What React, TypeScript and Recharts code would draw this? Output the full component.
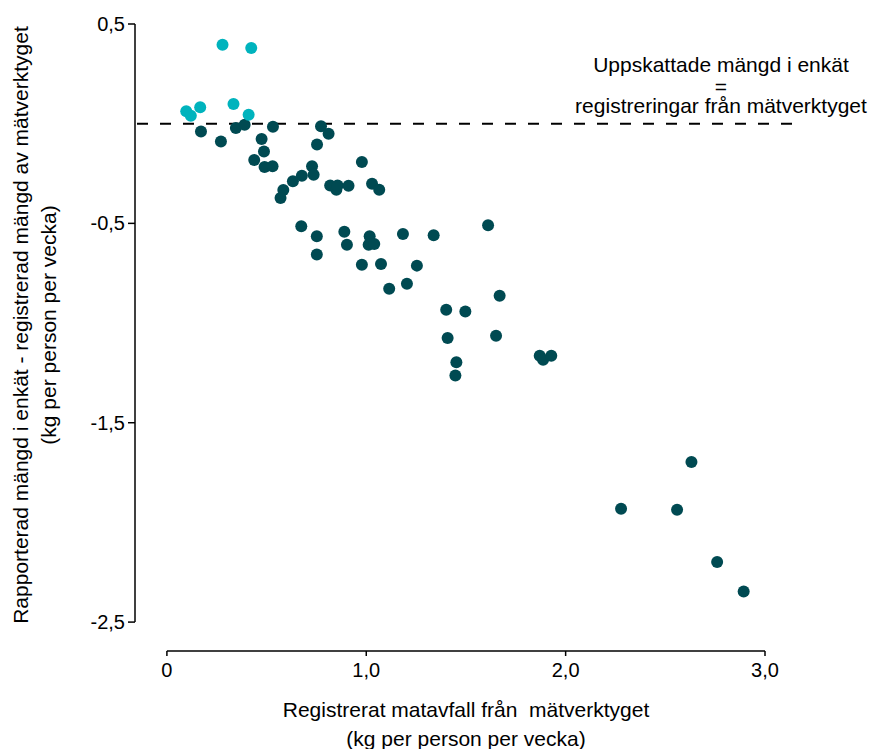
import React from 'react';
import { ScatterChart, Scatter, XAxis, YAxis, ReferenceLine } from 'recharts';

// Households where reported amount >= measured amount (light points)
const overX = [0.279, 0.423, 0.097, 0.12, 0.167, 0.334, 0.41];
const overY = [0.396, 0.38, 0.062, 0.04, 0.082, 0.099, 0.045];

// Households where reported amount < measured amount (dark points)
const underX = [
  0.171, 0.271, 0.346, 0.39, 0.532, 0.475, 0.487, 0.438, 0.49, 0.53,
  0.584, 0.57, 0.632, 0.677, 0.728, 0.736, 0.753, 0.773, 0.811, 0.819,
  0.85, 0.856, 0.911, 0.978, 1.029, 1.065, 0.674, 0.752, 0.752, 0.89,
  0.903, 1.017, 1.012, 1.04, 1.184, 1.338, 0.978, 1.074, 1.254, 1.204,
  1.115, 1.611, 1.669, 1.401, 1.497, 1.408, 1.651, 1.452, 1.447, 1.87,
  1.887, 1.928, 2.278, 2.559, 2.631, 2.76, 2.893,
];
const underY = [
  -0.039, -0.089, -0.022, -0.005, -0.015, -0.077, -0.14, -0.182, -0.217, -0.214,
  -0.333, -0.373, -0.289, -0.261, -0.214, -0.256, -0.105, -0.013, -0.05, -0.31,
  -0.331, -0.31, -0.311, -0.192, -0.301, -0.331, -0.515, -0.565, -0.656, -0.542,
  -0.607, -0.565, -0.607, -0.604, -0.553, -0.56, -0.707, -0.704, -0.712, -0.803,
  -0.828, -0.51, -0.863, -0.933, -0.942, -1.075, -1.064, -1.197, -1.263, -1.164,
  -1.184, -1.164, -1.931, -1.936, -1.697, -2.199, -2.346,
];

const xTicks = [0, 1, 2, 3];
const yTicks = [0.5, -0.5, -1.5, -2.5];

const X_MIN = -0.16;
const Y_MIN = -2.645;

const DARK = '#004a52';
const LIGHT = '#00b3bd';
const FONT = '"Liberation Sans", Arial, sans-serif';

const zip = (xs: number[], ys: number[]) => xs.map((x, i) => ({ x, y: ys[i] }));

const fmtX = (v: number) => (v === 0 ? '0' : v.toFixed(1).replace('.', ','));
const fmtY = (v: number) => v.toFixed(1).replace('.', ',');

const dot = (color: string) => (props: any) => (
  <circle cx={props.cx} cy={props.cy} r={6} fill={color} />
);

const App: React.FC = () => {
  const overData = zip(overX, overY);
  const underData = zip(underX, underY);
  const tickStyle = { fontSize: 20, fill: '#000', fontFamily: FONT };

  return (
    <div style={{ position: 'absolute', left: 0, top: 0, width: 873, height: 749, background: '#fff' }}>
      <ScatterChart width={873} height={749} margin={{ top: 24, right: 108, left: 75, bottom: 58 }}>
        <XAxis
          type="number"
          dataKey="x"
          domain={[X_MIN, 3]}
          ticks={xTicks}
          tickFormatter={fmtX}
          axisLine={false}
          tickLine={{ stroke: '#000', strokeWidth: 1.5 }}
          tickSize={5}
          tickMargin={7}
          tick={tickStyle}
          height={40}
        />
        <YAxis
          type="number"
          dataKey="y"
          domain={[Y_MIN, 0.5]}
          ticks={yTicks}
          tickFormatter={fmtY}
          axisLine={false}
          tickLine={{ stroke: '#000', strokeWidth: 1.5 }}
          tickSize={7}
          tickMargin={3}
          tick={tickStyle}
          width={60}
        />
        {/* detached axis lines */}
        <ReferenceLine
          segment={[{ x: 0, y: Y_MIN }, { x: 3, y: Y_MIN }]}
          stroke="#000"
          strokeWidth={1.5}
          ifOverflow="visible"
        />
        <ReferenceLine
          segment={[{ x: X_MIN, y: 0.5 }, { x: X_MIN, y: -2.5 }]}
          stroke="#000"
          strokeWidth={1.5}
          ifOverflow="visible"
        />
        {/* survey estimate equals measured amount */}
        <ReferenceLine
          segment={[{ x: -0.15, y: 0 }, { x: 3.15, y: 0 }]}
          stroke="#000"
          strokeWidth={2}
          strokeDasharray="11 12"
          ifOverflow="visible"
        />
        <Scatter data={underData} fill={DARK} shape={dot(DARK)} isAnimationActive={false} />
        <Scatter data={overData} fill={LIGHT} shape={dot(LIGHT)} isAnimationActive={false} />
      </ScatterChart>

      <svg
        width={873}
        height={749}
        style={{ position: 'absolute', left: 0, top: 0, pointerEvents: 'none' }}
        fontFamily={FONT}
        fontSize={21}
        fill="#000"
      >
        <text x={721} y={72} textAnchor="middle">Uppskattade mängd i enkät</text>
        <text x={721} y={94} textAnchor="middle">=</text>
        <text x={721} y={113} textAnchor="middle">registreringar från mätverktyget</text>

        <text x={466} y={717} textAnchor="middle" style={{ whiteSpace: 'pre' }}>
          Registrerat matavfall från  mätverktyget
        </text>
        <text x={466} y={746} textAnchor="middle">(kg per person per vecka)</text>

        <text x={28} y={325} textAnchor="middle" transform="rotate(-90 28 325)">
          Rapporterad mängd i enkät - registrerad mängd av mätverktyget
        </text>
        <text x={56} y={325} textAnchor="middle" transform="rotate(-90 56 325)">
          (kg per person per vecka)
        </text>
      </svg>
    </div>
  );
};

export default App;
